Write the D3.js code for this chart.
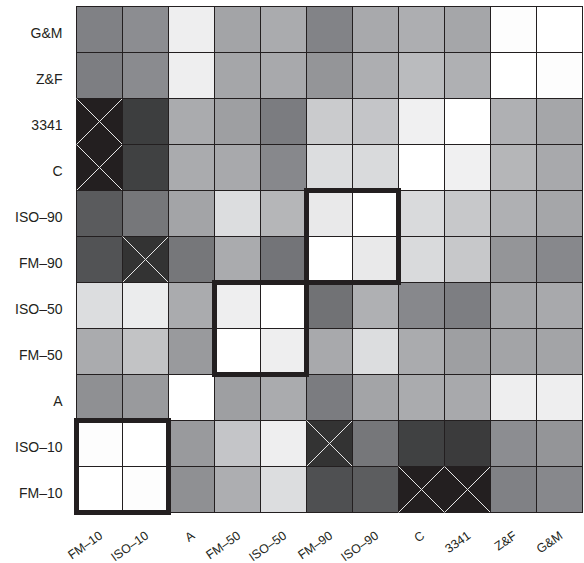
<!DOCTYPE html>
<html>
<head>
<meta charset="utf-8">
<script src="https://cdn.jsdelivr.net/npm/d3@7"></script>
<style>
  body { margin: 0; background: #fff; }
  svg { display: block; }
</style>
</head>
<body>
<div id="chart"></div>
<script>
// Methods, in column order (left to right); rows run the other way (bottom to top)
const methods = ["FM\u201310", "ISO\u201310", "A", "FM\u201350", "ISO\u201350", "FM\u201390", "ISO\u201390", "C", "3341", "Z&F", "G&M"];

// Similarity per row, top row first (G&M) down to FM-10; 1 = white
const rowGM   = [0.50, 0.55, 0.93, 0.64, 0.67, 0.51, 0.66, 0.68, 0.65, 0.99, 1.00];
const rowZF   = [0.49, 0.54, 0.93, 0.65, 0.66, 0.58, 0.68, 0.73, 0.69, 1.00, 0.99];
const row3341 = [0.14, 0.24, 0.67, 0.62, 0.48, 0.79, 0.77, 0.94, 1.00, 0.69, 0.65];
const rowC    = [0.14, 0.25, 0.67, 0.66, 0.53, 0.86, 0.85, 1.00, 0.94, 0.71, 0.66];
const rowISO90 = [0.35, 0.46, 0.64, 0.86, 0.71, 0.91, 1.00, 0.85, 0.78, 0.69, 0.65];
const rowFM90 = [0.32, 0.20, 0.46, 0.67, 0.45, 1.00, 0.91, 0.85, 0.78, 0.58, 0.53];
const rowISO50 = [0.86, 0.92, 0.67, 0.93, 1.00, 0.44, 0.69, 0.53, 0.49, 0.65, 0.66];
const rowFM50 = [0.67, 0.76, 0.60, 1.00, 0.93, 0.66, 0.86, 0.67, 0.62, 0.64, 0.64];
const rowA    = [0.56, 0.60, 1.00, 0.62, 0.67, 0.48, 0.64, 0.67, 0.66, 0.93, 0.93];
const rowISO10 = [0.99, 1.00, 0.60, 0.77, 0.93, 0.20, 0.46, 0.25, 0.23, 0.55, 0.58];
const rowFM10 = [1.00, 0.99, 0.56, 0.68, 0.86, 0.31, 0.36, 0.14, 0.14, 0.50, 0.53];

const rowNames = ["G&M", "Z&F", "3341", "C", "ISO\u201390", "FM\u201390", "ISO\u201350", "FM\u201350", "A", "ISO\u201310", "FM\u201310"];
const rows = [rowGM, rowZF, row3341, rowC, rowISO90, rowFM90, rowISO50, rowFM50, rowA, rowISO10, rowFM10];

// Highlighted pairs (thick boxes)
const pairs = [["FM\u201310", "ISO\u201310"], ["FM\u201350", "ISO\u201350"], ["FM\u201390", "ISO\u201390"]];

// cells at or below this get crossed out
const crossLimit = 0.21;

const width = 584, height = 563;
const margin = { top: 6.5, left: 76.5 };
const size = 506;

const svg = d3.select("#chart").append("svg")
    .attr("width", width)
    .attr("height", height)
    .style("font-family", "'Liberation Sans', Arial, sans-serif");

const x = d3.scaleBand().domain(methods).range([margin.left, margin.left + size]);
const y = d3.scaleBand().domain(rowNames).range([margin.top, margin.top + size]);

const color = d3.scaleLinear()
    .domain([0.14, 0.2, 0.25, 0.5, 0.65, 0.86, 1])
    .range(["#231f20", "#333333", "#404142", "#808185", "#a5a6a9", "#dcdddf", "#ffffff"]);

// flatten into cells
const cells = [];
rows.forEach((vals, i) => {
    vals.forEach((v, j) => cells.push({ row: rowNames[i], col: methods[j], value: v }));
});

const cell = svg.append("g").selectAll("g")
    .data(cells)
    .join("g")
    .attr("transform", d => `translate(${x(d.col)},${y(d.row)})`);

cell.append("rect")
    .attr("width", x.bandwidth())
    .attr("height", y.bandwidth())
    .attr("fill", d => color(d.value))
    .attr("stroke", "#231f20")
    .attr("stroke-width", 1);

// white crosses on the lowest cells
const crossed = cell.filter(d => d.value <= crossLimit);
crossed.append("line")
    .attr("x1", 0).attr("y1", 0)
    .attr("x2", x.bandwidth()).attr("y2", y.bandwidth());
crossed.append("line")
    .attr("x1", x.bandwidth()).attr("y1", 0)
    .attr("x2", 0).attr("y2", y.bandwidth());
crossed.selectAll("line")
    .attr("stroke", "#e6e6e6")
    .attr("stroke-width", 1);

// thick boxes round each pair
svg.append("g").selectAll("rect")
    .data(pairs)
    .join("rect")
    .attr("x", d => x(d[0]))
    .attr("y", d => y(d[1]))
    .attr("width", x.bandwidth() * 2)
    .attr("height", y.bandwidth() * 2)
    .attr("fill", "none")
    .attr("stroke", "#231f20")
    .attr("stroke-width", 5);

// row labels
svg.append("g").selectAll("text")
    .data(rowNames)
    .join("text")
    .attr("x", margin.left - 14)
    .attr("y", d => y(d) + y.bandwidth() / 2 + 8)
    .attr("text-anchor", "end")
    .attr("font-size", 14)
    .attr("fill", "#231f20")
    .text(d => d);

// column labels, rotated
svg.append("g").selectAll("text")
    .data(methods)
    .join("text")
    .attr("transform", d => `translate(${x(d) + x.bandwidth() / 2 + 4},${margin.top + size + 25}) rotate(-35)`)
    .attr("text-anchor", "end")
    .attr("font-size", 12.5)
    .attr("fill", "#231f20")
    .text(d => d);
</script>
</body>
</html>
